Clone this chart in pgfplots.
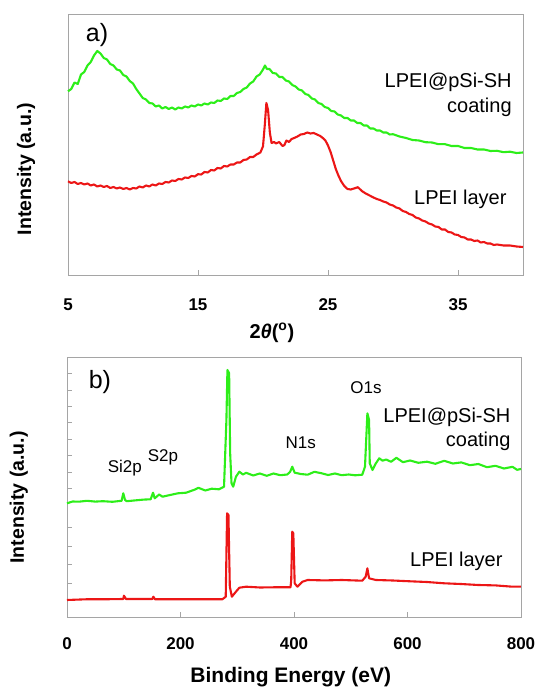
\documentclass[border=0pt]{standalone}
\usepackage{fontspec}
\setmainfont{Liberation Sans}
\usepackage{pgfplots}
\pgfplotsset{compat=1.18}

\definecolor{xgreen}{RGB}{45,238,25}
\definecolor{xred}{RGB}{236,22,22}
\definecolor{framegray}{RGB}{165,165,165}

\newcommand{\fs}[1]{\fontsize{#1}{#1}\selectfont}

\pgfplotsset{
  panel/.style={
    scale only axis,
    axis line style={framegray, line width=0.9pt},
    tick style={framegray, line width=0.8pt},
    major tick length=5pt,
    tick align=inside,
    xtick pos=bottom,
    ytick pos=left,
    ymin=0,
    clip=false,
    /pgf/number format/assume math mode=true,
    xticklabel={\fs{17}\bfseries\pgfmathprintnumber{\tick}},
    every x tick label/.style={anchor=center, font=\fs{17}\bfseries},
    every axis plot/.append style={line width=2.1pt, line join=round},
  }
}

\begin{document}
\begin{tikzpicture}
\path[use as bounding box] (0,0) rectangle (536pt,687pt);

% ---------------- (a) XRD ----------------
\begin{axis}[panel,
  at={(68pt,412pt)}, anchor=south west,
  width=455pt, height=261pt,
  xmin=5, xmax=40, ymax=261,
  xtick={5,15,25,35}, ytick=\empty,
  xticklabel style={yshift=-30pt},
  xlabel={\textbf{2\textit{θ}(\textsuperscript{o})}},
  every axis x label/.style={at={(axis description cs:0.448,-0.222)}, anchor=center, font=\fs{20}},
  ylabel={Intensity (a.u.)},
  every axis y label/.style={at={(axis description cs:-0.092,0.406)}, anchor=center, rotate=90, font=\fs{19.5}\bfseries},
]
\addplot[xgreen] coordinates {
(5.0,183.7)(5.25,186)(5.5,192.5)(5.75,191)(6.0,200.5)(6.25,203)(6.5,209.5)(6.75,213)
(7.0,219.5)(7.25,224)(7.5,221.5)(7.75,217)(8.0,215.5)(8.25,211)(8.5,209.5)(8.75,205.5)
(9.0,204.5)(9.25,200)(9.5,198.5)(9.75,194)(10.0,191.5)(10.25,186)(10.5,181.5)(10.75,177)
(11.0,175.5)(11.25,172)(11.5,171.5)(11.75,168.5)(12.0,169.5)(12.25,166.5)(12.5,168)(12.75,166)
(13.0,167.5)(13.25,165.5)(13.5,167.5)(13.75,166.5)(14.0,168.5)(14.25,167.5)(14.5,169.5)(14.75,168.5)
(15.0,170.5)(15.25,169.5)(15.5,171.5)(15.75,170.5)(16.0,172.5)(16.25,172)(16.5,174.5)(16.75,174)
(17.0,176.5)(17.25,176)(17.5,179)(17.75,179)(18.0,182)(18.25,183)(18.5,186)(18.75,187.5)
(19.0,191.5)(19.25,193.5)(19.5,198.5)(19.75,200.5)(20.0,205.5)(20.15,209.5)(20.3,206)(20.5,206)
(20.75,202)(21.0,201.5)(21.25,198)(21.5,198)(21.75,194.5)(22.0,193.5)(22.25,190)(22.5,188.5)
(22.75,185.5)(23.0,184.5)(23.25,181)(23.5,180)(23.75,176.5)(24.0,175.5)(24.25,172)(24.5,171)
(24.75,168)(25.0,167)(25.25,164)(25.5,163.5)(25.75,160.5)(26.0,159.5)(26.25,157)(26.5,157)
(26.75,154.5)(27.0,154.5)(27.25,152)(27.5,152)(27.75,149.5)(28.0,149.5)(28.25,146.5)(28.5,146.5)
(28.75,144.5)(29.0,144.5)(29.25,142.5)(29.5,142.5)(29.75,140.5)(30.0,140.8)(30.5,138.5)(31.0,137)
(31.5,135)(32.0,134.5)(32.5,132.8)(33.0,132.5)(33.5,130.8)(34.0,130.8)(34.5,129)(35.0,129)
(35.5,127)(36.0,127)(36.5,125.5)(37.0,125.5)(37.5,124)(38.0,124.2)(38.5,122.8)(39.0,123.3)
(39.5,122)(40.0,122.5)
};
\addplot[xred] coordinates {
(5.0,93.7)(5.25,92)(5.5,93)(5.75,91)(6.0,92)(6.25,90.5)(6.5,91.5)(6.75,89.5)
(7.0,90.5)(7.25,88.5)(7.5,89.5)(7.75,88)(8.0,89)(8.25,87)(8.5,88)(8.75,86.5)
(9.0,87.5)(9.25,86)(9.5,87)(9.75,85.5)(10.0,87)(10.25,86.5)(10.5,88.5)(10.75,87.5)
(11.0,89.5)(11.25,88.5)(11.5,90.5)(11.75,89.5)(12.0,91.5)(12.25,91)(12.5,93)(12.75,92.5)
(13.0,94.5)(13.25,94)(13.5,96)(13.75,95.5)(14.0,97.5)(14.25,97)(14.5,99)(14.75,98.5)
(15.0,100.8)(15.25,100.5)(15.5,103)(15.75,102.5)(16.0,105)(16.25,104.5)(16.5,107)(16.75,106.5)
(17.0,109)(17.25,108.5)(17.5,110.5)(17.75,110.5)(18.0,112.5)(18.25,112.5)(18.5,115)(18.75,115.5)
(19.0,118)(19.25,118)(19.5,120.5)(19.8,122.5)(20.0,128.7)(20.13,148.7)(20.26,172)(20.39,165)
(20.53,142)(20.66,132)(20.85,133)(21.0,131.5)(21.25,133)(21.5,129)(21.65,130)(21.8,134.5)
(22.0,133)(22.2,136)(22.4,137)(22.65,138.5)(22.9,140.5)(23.15,141)(23.4,142.5)(23.65,141.5)
(23.9,142)(24.15,140.5)(24.4,139)(24.6,137)(24.8,134.5)(25.0,129.5)(25.2,123)(25.4,114.5)
(25.6,106)(25.8,99.5)(26.0,94)(26.25,89)(26.5,86)(26.75,85.5)(27.0,86.5)(27.3,87.8)
(27.6,84)(27.9,81.5)(28.2,79.5)(28.5,77.5)(28.75,76)(29.0,75)(29.25,73.5)(29.5,72.5)
(29.75,70.5)(30.0,69.5)(30.25,67.5)(30.5,66.5)(30.75,64)(31.0,63)(31.25,61)(31.5,60)
(31.75,57.5)(32.0,56.5)(32.25,54.5)(32.5,53.5)(32.75,51.5)(33.0,50.5)(33.25,48.5)(33.5,48)
(33.75,45.5)(34.0,45.5)(34.25,43)(34.5,42.5)(34.75,40.5)(35.0,40)(35.25,38)(35.5,37.5)
(35.75,35.5)(36.0,35.5)(36.25,34)(36.5,34.5)(36.75,32.5)(37.0,33)(37.25,31.5)(37.5,31.5)
(37.75,30)(38.0,30.5)(38.5,29.5)(39.0,29.5)(39.5,28.5)(40.0,28)
};
\node[font=\fs{25}] at (axis cs:7.23,240) {a)};
\node[font=\fs{20}, anchor=east] at (axis cs:39.4,193) {LPEI@pSi-SH};
\node[font=\fs{20}, anchor=east] at (axis cs:39.4,168) {coating};
\node[font=\fs{20}, anchor=east] at (axis cs:39.0,76) {LPEI layer};
\end{axis}

% ---------------- (b) XPS ----------------
\begin{axis}[panel,
  at={(67pt,70pt)}, anchor=south west,
  width=454pt, height=260pt,
  xmin=0, xmax=800, ymax=260,
  xtick={0,200,400,600,800},
  ytick={34,52.3,70.7,89.3,128.7,145,161.3,178,194.3,210.7,227,243.3},
  yticklabels={},
  xticklabel style={yshift=-27pt},
  xlabel={Binding Energy (eV)},
  every axis x label/.style={at={(axis description cs:0.493,-0.231)}, anchor=center, font=\fs{21}\bfseries},
  ylabel={Intensity (a.u.)},
  every axis y label/.style={at={(axis description cs:-0.106,0.46)}, anchor=center, rotate=90, font=\fs{19.5}\bfseries},
]
\addplot[xgreen] coordinates {
(0,113.7)(10,115.5)(21.1,115.3)(35,116.2)(50,115.4)(63.2,115.8)(80,115.2)(96.2,116.2)
(99.2,123.7)(102.3,117)(105.3,115.8)(120,116.6)(135,117.4)(147.4,117.7)(151.6,124.3)(154.6,118.7)
(162.4,122.5)(168.4,120.3)(180,121.8)(195.5,123.7)(210,124.3)(225.6,127.5)(231.6,129.2)(243.6,126.5)
(255,128.3)(267.7,127.7)(276.7,130.3)(280.9,197)(282.7,247)(285.7,243.7)(287.5,163.7)(289.9,133.7)
(292.9,130.3)(297.7,140.3)(303.7,145.3)(310,142.5)(315.8,144.2)(328,141.5)(339.8,143.5)(352,141.2)
(363.9,143.5)(376,141.8)(388,142.5)(393,145)(397,150.3)(401.2,144.3)(412,143)(424,142.3)
(436,145.2)(448,143.8)(460,142)(472.2,143.5)(484,141.8)(496.3,142.5)(508,141.7)(520.3,142.3)
(525.1,150.3)(529.3,203.7)(532.3,197)(533.5,153.7)(538.3,147)(544.3,153.7)(550.3,158.7)(556,156.3)
(562.4,157.5)(571,155.2)(580.4,159.2)(592,154.8)(604.5,156.5)(619,154.2)(634.6,155.3)(649,153.2)
(664.7,156.2)(680,153.5)(694.8,154.6)(710,151.8)(724.9,153)(740,149.8)(755,151.2)(770,148.5)
(785,150.2)(793,147.2)(800,148)
};
\addplot[xred] coordinates {
(0,17)(33.1,17.7)(63.2,17.7)(99.2,18)(100.4,21.3)(104,18)(150.4,18)(152.2,20.3)
(155.2,17.7)(183.5,17.7)(243.6,17.7)(273.7,17.7)(279.7,20.3)(282.1,103.7)(284.5,102)(286.9,30.3)
(290.5,20.3)(297.7,25.3)(303.7,29.3)(315.8,30.3)(340,29.5)(363.9,29.7)(393.9,29.7)(395.1,37)
(396.9,85.3)(398.8,83.7)(401.2,33.7)(406,30.3)(415,35.3)(424,37)(454,36.6)(484.2,37)
(520.3,36.3)(526.3,40.3)(529.3,48.7)(532.3,38.7)(544.3,37)(574,36.5)(604.5,35.7)(634,35)
(664.7,33.7)(694,33)(724.9,32)(755,31.6)(785,30.3)(800,30.3)
};
\node[font=\fs{25}] at (axis cs:58,235) {b)};
\node[font=\fs{17}] at (axis cs:527,229) {O1s};
\node[font=\fs{17}] at (axis cs:412,174) {N1s};
\node[font=\fs{17}] at (axis cs:102,149) {Si2p};
\node[font=\fs{17}] at (axis cs:169,160) {S2p};
\node[font=\fs{20}, anchor=east] at (axis cs:787.6,200) {LPEI@pSi-SH};
\node[font=\fs{20}, anchor=east] at (axis cs:787.6,176) {coating};
\node[font=\fs{20}, anchor=east] at (axis cs:773.6,56) {LPEI layer};
\end{axis}
\end{tikzpicture}
\end{document}
